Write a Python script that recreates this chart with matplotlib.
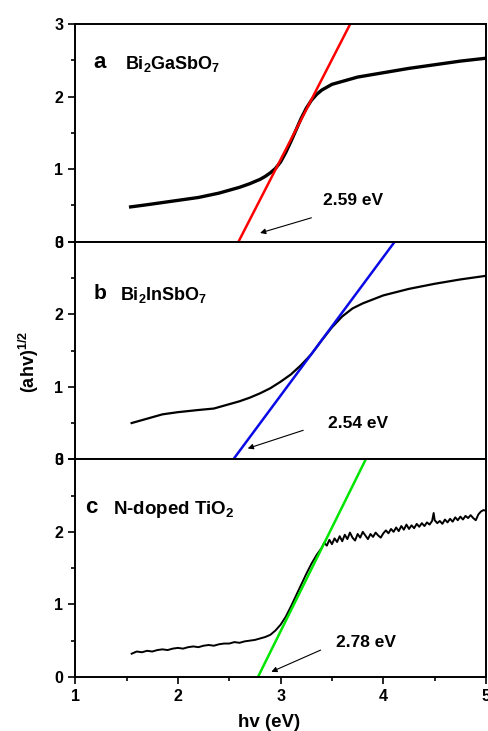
import numpy as np
import matplotlib
matplotlib.use("Agg")
import matplotlib.pyplot as plt
from matplotlib.ticker import MultipleLocator

plt.rcParams["font.family"] = ["Liberation Sans", "DejaVu Sans"]
plt.rcParams["font.weight"] = "bold"
plt.rcParams["mathtext.fontset"] = "custom"
plt.rcParams["mathtext.rm"] = "Liberation Sans:bold"
plt.rcParams["mathtext.it"] = "Liberation Sans:bold"
plt.rcParams["mathtext.bf"] = "Liberation Sans:bold"

# panel a: Bi2GaSbO7
xa = [1.54, 1.7, 1.9, 2.0, 2.2, 2.4, 2.5, 2.6, 2.7, 2.8, 2.85, 2.9, 2.95,
      3.0, 3.05, 3.1, 3.15, 3.2, 3.25, 3.3, 3.35, 3.4, 3.5, 3.6, 3.75, 4.0,
      4.25, 4.5, 4.75, 5.0]
ya = [0.48, 0.51, 0.55, 0.57, 0.61, 0.67, 0.71, 0.75, 0.80, 0.86, 0.90, 0.95,
      1.01, 1.10, 1.23, 1.38, 1.54, 1.70, 1.84, 1.95, 2.03, 2.09, 2.17, 2.21,
      2.27, 2.33, 2.39, 2.44, 2.49, 2.53]

# panel b: Bi2InSbO7
xb = [1.55, 1.7, 1.85, 2.0, 2.2, 2.35, 2.5, 2.6, 2.7, 2.8, 2.9, 3.0, 3.1, 3.2,
      3.3, 3.4, 3.5, 3.6, 3.7, 3.8, 4.0, 4.25, 4.5, 4.75, 5.0]
yb = [0.50, 0.56, 0.62, 0.65, 0.68, 0.70, 0.76, 0.80, 0.85, 0.91, 0.98, 1.07,
      1.17, 1.30, 1.45, 1.64, 1.82, 1.97, 2.08, 2.15, 2.26, 2.35, 2.42, 2.48,
      2.53]

# panel c: N-doped TiO2
xc = [1.55, 1.60, 1.65, 1.70, 1.75, 1.80, 1.85, 1.90, 1.95, 2.00, 2.05, 2.10,
      2.15, 2.20, 2.25, 2.30, 2.35, 2.40, 2.45, 2.50, 2.55, 2.60, 2.65, 2.70,
      2.75, 2.80, 2.85, 2.90, 2.95, 3.00, 3.05, 3.10, 3.15, 3.20, 3.25, 3.30,
      3.35, 3.40, 3.425, 3.45, 3.475, 3.50, 3.525, 3.55, 3.575, 3.60, 3.625,
      3.65, 3.675, 3.70, 3.725, 3.75, 3.775, 3.80, 3.825, 3.85, 3.875, 3.90,
      3.925, 3.95, 3.975, 4.00, 4.025, 4.05, 4.075, 4.10, 4.125, 4.15, 4.175,
      4.20, 4.225, 4.25, 4.275, 4.30, 4.325, 4.35, 4.375, 4.40, 4.425, 4.45,
      4.475, 4.49, 4.50, 4.525, 4.55, 4.575, 4.60, 4.625, 4.65, 4.675, 4.70,
      4.725, 4.75, 4.775, 4.80, 4.825, 4.85, 4.875, 4.90, 4.925, 4.95, 4.975,
      5.00]
yc = [0.32, 0.35, 0.34, 0.36, 0.35, 0.37, 0.38, 0.37, 0.39, 0.40, 0.39, 0.41,
      0.42, 0.41, 0.43, 0.44, 0.43, 0.45, 0.46, 0.46, 0.48, 0.47, 0.49, 0.50,
      0.51, 0.53, 0.55, 0.58, 0.64, 0.72, 0.83, 0.97, 1.12, 1.27, 1.42, 1.56,
      1.68, 1.78, 1.85, 1.81, 1.89, 1.83, 1.91, 1.86, 1.94, 1.87, 1.96, 1.90,
      1.99, 1.92, 1.88, 1.97, 1.92, 2.00, 1.95, 1.90, 1.97, 1.93, 1.99, 1.95,
      1.92, 1.98, 2.02, 1.98, 2.04, 2.00, 2.06, 2.01, 2.08, 2.03, 2.10, 2.04,
      2.09, 2.05, 2.11, 2.07, 2.12, 2.08, 2.13, 2.10, 2.15, 2.26, 2.16, 2.12,
      2.15, 2.11, 2.17, 2.13, 2.18, 2.14, 2.20, 2.16, 2.21, 2.17, 2.22, 2.19,
      2.23, 2.19, 2.16, 2.24, 2.28, 2.30, 2.29]

gaps = [2.59, 2.54, 2.78]
slopes = [2.76, 1.91, 2.86]
fit_colors = ["#ff0000", "#0a0ae6", "#00e600"]
letters = ["a", "b", "c"]
names = [r"Bi$_2$GaSbO$_7$", r"Bi$_2$InSbO$_7$", r"N-doped TiO$_2$"]
gap_labels = ["2.59 eV", "2.54 eV", "2.78 eV"]

fig, axs = plt.subplots(3, 1, sharex=True, figsize=(4.88, 7.31), dpi=100)
fig.subplots_adjust(left=0.154, right=0.996, top=0.967, bottom=0.074, hspace=0)

curves = [(xa, ya, 2.4), (xb, yb, 1.6), (xc, yc, 1.4)]
letter_pos = [(1.18, 2.47, 16), (1.18, 2.29, 15), (1.10, 2.33, 16)]
name_pos = [(1.49, 2.45), (1.44, 2.27), (1.37, 2.31)]
name_size = [13, 13, 13.5]
text_pos = [(3.41, 0.57), (3.46, 0.50), (3.54, 0.47)]
arrow_tail = [(3.30, 0.33), (3.22, 0.40), (3.39, 0.37)]
arrow_head = [(2.80, 0.12), (2.68, 0.15), (2.91, 0.07)]

for i, ax in enumerate(axs):
    x, y, lw = curves[i]
    ax.plot(x, y, color="black", lw=lw, solid_joinstyle="round")
    fx = [gaps[i], gaps[i] + 3.2 / slopes[i]]
    fy = [0, 3.2]
    ax.plot(fx, fy, color=fit_colors[i], lw=1.8)

    ax.text(letter_pos[i][0], letter_pos[i][1], letters[i], fontsize=letter_pos[i][2],
            fontweight="bold", va="center", ha="left")
    ax.text(name_pos[i][0], name_pos[i][1], names[i], fontsize=name_size[i],
            fontweight="bold", va="center", ha="left")
    ax.text(text_pos[i][0], text_pos[i][1], gap_labels[i], fontsize=12.5,
            fontweight="bold", va="center", ha="left")
    ax.annotate("", xy=arrow_head[i], xytext=arrow_tail[i],
                arrowprops=dict(arrowstyle="-|>", color="black", lw=0.8,
                                mutation_scale=8, shrinkA=0, shrinkB=0))

    ax.set_xlim(1, 5)
    ax.set_ylim(0, 3)
    ax.set_yticks([0, 1, 2, 3])
    ax.yaxis.set_minor_locator(MultipleLocator(0.5))
    ax.xaxis.set_major_locator(MultipleLocator(1))
    ax.xaxis.set_minor_locator(MultipleLocator(0.5))
    ax.tick_params(which="major", direction="out", length=5, width=1.2,
                   labelsize=11.5, top=False, right=False)
    ax.tick_params(which="minor", direction="out", length=3, width=1.2,
                   top=False, right=False)
    for s in ax.spines.values():
        s.set_linewidth(1.4)
    for lab in ax.get_yticklabels() + ax.get_xticklabels():
        lab.set_fontweight("bold")

axs[2].set_xlabel("hv (eV)", fontsize=13.5, fontweight="bold")
axs[2].xaxis.set_label_coords(0.473, -0.17)
fig.text(0.06, 0.505, r"(ahv)$^{1/2}$", rotation=90, fontsize=13,
         fontweight="bold", va="center", ha="center")

fig.savefig("out.png", dpi=100)
